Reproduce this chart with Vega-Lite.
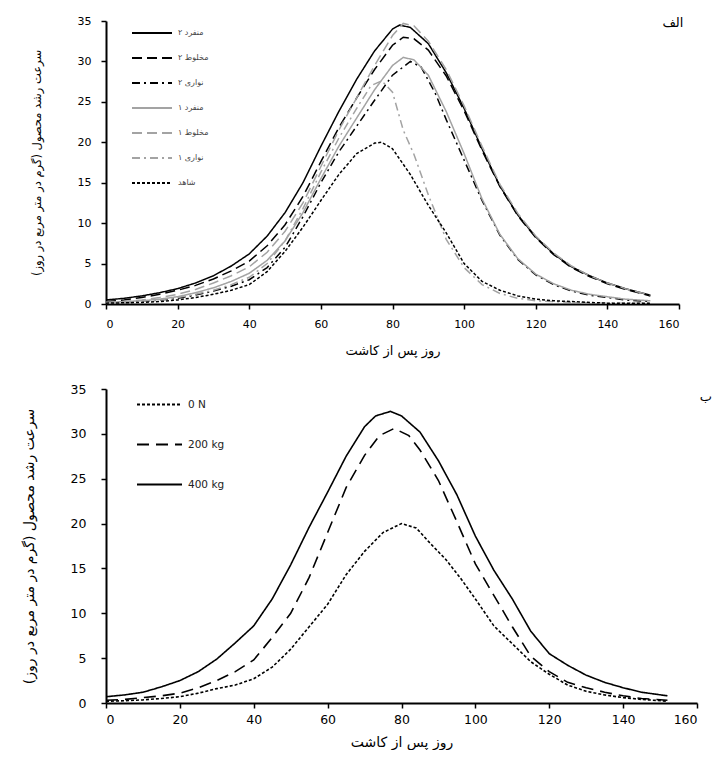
{
  "$schema": "https://vega.github.io/schema/vega-lite/v6.json",
  "background": "white",
  "padding": {"top": 12, "left": 22, "right": 0, "bottom": 0},
  "config": {
    "view": {"stroke": null},
    "font": "DejaVu Sans",
    "axis": {
      "grid": false,
      "domainColor": "#000",
      "domainWidth": 2,
      "tickColor": "#000",
      "tickWidth": 1.5,
      "tickSize": 5,
      "labelColor": "#000",
      "titleColor": "#000",
      "titleFontWeight": "normal",
      "labelFont": "DejaVu Sans",
      "titleFont": "DejaVu Sans"
    },
    "legend": {"symbolType": "stroke", "padding": 0, "title": null}
  },
  "datasets": {
    "top": [
      {"series": "منفرد ۲", "day": 0, "cgr": 0.5}, {"series": "منفرد ۲", "day": 5, "cgr": 0.7}, {"series": "منفرد ۲", "day": 10, "cgr": 1.0}, {"series": "منفرد ۲", "day": 15, "cgr": 1.4}, {"series": "منفرد ۲", "day": 20, "cgr": 1.9}, {"series": "منفرد ۲", "day": 25, "cgr": 2.6}, {"series": "منفرد ۲", "day": 30, "cgr": 3.5}, {"series": "منفرد ۲", "day": 35, "cgr": 4.7}, {"series": "منفرد ۲", "day": 40, "cgr": 6.2}, {"series": "منفرد ۲", "day": 45, "cgr": 8.4}, {"series": "منفرد ۲", "day": 50, "cgr": 11.3}, {"series": "منفرد ۲", "day": 55, "cgr": 15.0}, {"series": "منفرد ۲", "day": 60, "cgr": 19.5}, {"series": "منفرد ۲", "day": 65, "cgr": 23.8}, {"series": "منفرد ۲", "day": 70, "cgr": 27.8}, {"series": "منفرد ۲", "day": 75, "cgr": 31.3}, {"series": "منفرد ۲", "day": 80, "cgr": 34.0}, {"series": "منفرد ۲", "day": 82, "cgr": 34.5}, {"series": "منفرد ۲", "day": 85, "cgr": 34.2}, {"series": "منفرد ۲", "day": 90, "cgr": 32.2}, {"series": "منفرد ۲", "day": 95, "cgr": 28.6}, {"series": "منفرد ۲", "day": 100, "cgr": 24.2}, {"series": "منفرد ۲", "day": 105, "cgr": 19.2}, {"series": "منفرد ۲", "day": 110, "cgr": 14.6}, {"series": "منفرد ۲", "day": 115, "cgr": 11.0}, {"series": "منفرد ۲", "day": 120, "cgr": 8.3}, {"series": "منفرد ۲", "day": 125, "cgr": 6.2}, {"series": "منفرد ۲", "day": 130, "cgr": 4.6}, {"series": "منفرد ۲", "day": 135, "cgr": 3.5}, {"series": "منفرد ۲", "day": 140, "cgr": 2.6}, {"series": "منفرد ۲", "day": 145, "cgr": 1.9}, {"series": "منفرد ۲", "day": 152, "cgr": 1.1},

      {"series": "مخلوط ۲", "day": 0, "cgr": 0.3}, {"series": "مخلوط ۲", "day": 5, "cgr": 0.5}, {"series": "مخلوط ۲", "day": 10, "cgr": 0.8}, {"series": "مخلوط ۲", "day": 15, "cgr": 1.2}, {"series": "مخلوط ۲", "day": 20, "cgr": 1.7}, {"series": "مخلوط ۲", "day": 25, "cgr": 2.3}, {"series": "مخلوط ۲", "day": 30, "cgr": 3.1}, {"series": "مخلوط ۲", "day": 35, "cgr": 4.1}, {"series": "مخلوط ۲", "day": 40, "cgr": 5.3}, {"series": "مخلوط ۲", "day": 45, "cgr": 7.2}, {"series": "مخلوط ۲", "day": 50, "cgr": 9.8}, {"series": "مخلوط ۲", "day": 55, "cgr": 13.3}, {"series": "مخلوط ۲", "day": 60, "cgr": 17.6}, {"series": "مخلوط ۲", "day": 65, "cgr": 21.8}, {"series": "مخلوط ۲", "day": 70, "cgr": 25.5}, {"series": "مخلوط ۲", "day": 75, "cgr": 29.0}, {"series": "مخلوط ۲", "day": 80, "cgr": 32.0}, {"series": "مخلوط ۲", "day": 83, "cgr": 33.0}, {"series": "مخلوط ۲", "day": 86, "cgr": 32.8}, {"series": "مخلوط ۲", "day": 90, "cgr": 31.4}, {"series": "مخلوط ۲", "day": 95, "cgr": 28.2}, {"series": "مخلوط ۲", "day": 100, "cgr": 23.9}, {"series": "مخلوط ۲", "day": 105, "cgr": 19.0}, {"series": "مخلوط ۲", "day": 110, "cgr": 14.5}, {"series": "مخلوط ۲", "day": 115, "cgr": 10.9}, {"series": "مخلوط ۲", "day": 120, "cgr": 8.2}, {"series": "مخلوط ۲", "day": 125, "cgr": 6.1}, {"series": "مخلوط ۲", "day": 130, "cgr": 4.5}, {"series": "مخلوط ۲", "day": 135, "cgr": 3.4}, {"series": "مخلوط ۲", "day": 140, "cgr": 2.5}, {"series": "مخلوط ۲", "day": 145, "cgr": 1.8}, {"series": "مخلوط ۲", "day": 152, "cgr": 1.0},

      {"series": "نواری ۲", "day": 0, "cgr": 0.1}, {"series": "نواری ۲", "day": 5, "cgr": 0.2}, {"series": "نواری ۲", "day": 10, "cgr": 0.3}, {"series": "نواری ۲", "day": 15, "cgr": 0.5}, {"series": "نواری ۲", "day": 20, "cgr": 0.7}, {"series": "نواری ۲", "day": 25, "cgr": 1.1}, {"series": "نواری ۲", "day": 30, "cgr": 1.6}, {"series": "نواری ۲", "day": 35, "cgr": 2.2}, {"series": "نواری ۲", "day": 40, "cgr": 3.0}, {"series": "نواری ۲", "day": 45, "cgr": 4.5}, {"series": "نواری ۲", "day": 50, "cgr": 7.0}, {"series": "نواری ۲", "day": 55, "cgr": 10.8}, {"series": "نواری ۲", "day": 60, "cgr": 15.0}, {"series": "نواری ۲", "day": 65, "cgr": 18.8}, {"series": "نواری ۲", "day": 70, "cgr": 22.0}, {"series": "نواری ۲", "day": 75, "cgr": 25.2}, {"series": "نواری ۲", "day": 80, "cgr": 28.3}, {"series": "نواری ۲", "day": 85, "cgr": 30.0}, {"series": "نواری ۲", "day": 88, "cgr": 29.3}, {"series": "نواری ۲", "day": 92, "cgr": 26.0}, {"series": "نواری ۲", "day": 95, "cgr": 22.8}, {"series": "نواری ۲", "day": 100, "cgr": 17.8}, {"series": "نواری ۲", "day": 105, "cgr": 12.8}, {"series": "نواری ۲", "day": 110, "cgr": 8.5}, {"series": "نواری ۲", "day": 115, "cgr": 5.5}, {"series": "نواری ۲", "day": 120, "cgr": 3.6}, {"series": "نواری ۲", "day": 125, "cgr": 2.4}, {"series": "نواری ۲", "day": 130, "cgr": 1.6}, {"series": "نواری ۲", "day": 135, "cgr": 1.1}, {"series": "نواری ۲", "day": 140, "cgr": 0.8}, {"series": "نواری ۲", "day": 145, "cgr": 0.5}, {"series": "نواری ۲", "day": 152, "cgr": 0.3},

      {"series": "منفرد ۱", "day": 0, "cgr": 0.2}, {"series": "منفرد ۱", "day": 5, "cgr": 0.3}, {"series": "منفرد ۱", "day": 10, "cgr": 0.4}, {"series": "منفرد ۱", "day": 15, "cgr": 0.6}, {"series": "منفرد ۱", "day": 20, "cgr": 0.9}, {"series": "منفرد ۱", "day": 25, "cgr": 1.4}, {"series": "منفرد ۱", "day": 30, "cgr": 2.0}, {"series": "منفرد ۱", "day": 35, "cgr": 2.8}, {"series": "منفرد ۱", "day": 40, "cgr": 3.8}, {"series": "منفرد ۱", "day": 45, "cgr": 5.4}, {"series": "منفرد ۱", "day": 50, "cgr": 7.8}, {"series": "منفرد ۱", "day": 55, "cgr": 11.3}, {"series": "منفرد ۱", "day": 60, "cgr": 15.5}, {"series": "منفرد ۱", "day": 65, "cgr": 19.5}, {"series": "منفرد ۱", "day": 70, "cgr": 23.0}, {"series": "منفرد ۱", "day": 75, "cgr": 26.5}, {"series": "منفرد ۱", "day": 80, "cgr": 29.5}, {"series": "منفرد ۱", "day": 83, "cgr": 30.5}, {"series": "منفرد ۱", "day": 86, "cgr": 30.2}, {"series": "منفرد ۱", "day": 90, "cgr": 28.3}, {"series": "منفرد ۱", "day": 95, "cgr": 23.8}, {"series": "منفرد ۱", "day": 100, "cgr": 18.6}, {"series": "منفرد ۱", "day": 105, "cgr": 13.0}, {"series": "منفرد ۱", "day": 110, "cgr": 8.6}, {"series": "منفرد ۱", "day": 115, "cgr": 5.6}, {"series": "منفرد ۱", "day": 120, "cgr": 3.7}, {"series": "منفرد ۱", "day": 125, "cgr": 2.5}, {"series": "منفرد ۱", "day": 130, "cgr": 1.7}, {"series": "منفرد ۱", "day": 135, "cgr": 1.2}, {"series": "منفرد ۱", "day": 140, "cgr": 0.9}, {"series": "منفرد ۱", "day": 145, "cgr": 0.6}, {"series": "منفرد ۱", "day": 152, "cgr": 0.4},

      {"series": "مخلوط ۱", "day": 0, "cgr": 0.2}, {"series": "مخلوط ۱", "day": 5, "cgr": 0.3}, {"series": "مخلوط ۱", "day": 10, "cgr": 0.5}, {"series": "مخلوط ۱", "day": 15, "cgr": 0.8}, {"series": "مخلوط ۱", "day": 20, "cgr": 1.2}, {"series": "مخلوط ۱", "day": 25, "cgr": 1.8}, {"series": "مخلوط ۱", "day": 30, "cgr": 2.6}, {"series": "مخلوط ۱", "day": 35, "cgr": 3.5}, {"series": "مخلوط ۱", "day": 40, "cgr": 4.6}, {"series": "مخلوط ۱", "day": 45, "cgr": 6.4}, {"series": "مخلوط ۱", "day": 50, "cgr": 9.0}, {"series": "مخلوط ۱", "day": 55, "cgr": 12.5}, {"series": "مخلوط ۱", "day": 60, "cgr": 17.0}, {"series": "مخلوط ۱", "day": 65, "cgr": 21.5}, {"series": "مخلوط ۱", "day": 70, "cgr": 25.5}, {"series": "مخلوط ۱", "day": 75, "cgr": 29.5}, {"series": "مخلوط ۱", "day": 80, "cgr": 33.2}, {"series": "مخلوط ۱", "day": 83, "cgr": 34.7}, {"series": "مخلوط ۱", "day": 86, "cgr": 34.4}, {"series": "مخلوط ۱", "day": 90, "cgr": 32.5}, {"series": "مخلوط ۱", "day": 95, "cgr": 29.0}, {"series": "مخلوط ۱", "day": 100, "cgr": 24.5}, {"series": "مخلوط ۱", "day": 105, "cgr": 19.5}, {"series": "مخلوط ۱", "day": 110, "cgr": 14.8}, {"series": "مخلوط ۱", "day": 115, "cgr": 11.2}, {"series": "مخلوط ۱", "day": 120, "cgr": 8.4}, {"series": "مخلوط ۱", "day": 125, "cgr": 6.3}, {"series": "مخلوط ۱", "day": 130, "cgr": 4.7}, {"series": "مخلوط ۱", "day": 135, "cgr": 3.5}, {"series": "مخلوط ۱", "day": 140, "cgr": 2.6}, {"series": "مخلوط ۱", "day": 145, "cgr": 1.9}, {"series": "مخلوط ۱", "day": 152, "cgr": 1.1},

      {"series": "نواری ۱", "day": 0, "cgr": 0.1}, {"series": "نواری ۱", "day": 5, "cgr": 0.2}, {"series": "نواری ۱", "day": 10, "cgr": 0.3}, {"series": "نواری ۱", "day": 15, "cgr": 0.5}, {"series": "نواری ۱", "day": 20, "cgr": 0.8}, {"series": "نواری ۱", "day": 25, "cgr": 1.2}, {"series": "نواری ۱", "day": 30, "cgr": 1.7}, {"series": "نواری ۱", "day": 35, "cgr": 2.4}, {"series": "نواری ۱", "day": 40, "cgr": 3.3}, {"series": "نواری ۱", "day": 45, "cgr": 5.0}, {"series": "نواری ۱", "day": 50, "cgr": 7.8}, {"series": "نواری ۱", "day": 55, "cgr": 11.8}, {"series": "نواری ۱", "day": 60, "cgr": 16.3}, {"series": "نواری ۱", "day": 65, "cgr": 20.5}, {"series": "نواری ۱", "day": 70, "cgr": 24.2}, {"series": "نواری ۱", "day": 74, "cgr": 27.0}, {"series": "نواری ۱", "day": 77, "cgr": 27.6}, {"series": "نواری ۱", "day": 80, "cgr": 26.2}, {"series": "نواری ۱", "day": 83, "cgr": 21.5}, {"series": "نواری ۱", "day": 86, "cgr": 18.5}, {"series": "نواری ۱", "day": 90, "cgr": 13.5}, {"series": "نواری ۱", "day": 95, "cgr": 8.0}, {"series": "نواری ۱", "day": 100, "cgr": 4.5}, {"series": "نواری ۱", "day": 105, "cgr": 2.4}, {"series": "نواری ۱", "day": 110, "cgr": 1.3}, {"series": "نواری ۱", "day": 115, "cgr": 0.7}, {"series": "نواری ۱", "day": 120, "cgr": 0.4}, {"series": "نواری ۱", "day": 130, "cgr": 0.2}, {"series": "نواری ۱", "day": 140, "cgr": 0.1}, {"series": "نواری ۱", "day": 152, "cgr": 0.1},

      {"series": "شاهد", "day": 0, "cgr": 0.1}, {"series": "شاهد", "day": 5, "cgr": 0.15}, {"series": "شاهد", "day": 10, "cgr": 0.2}, {"series": "شاهد", "day": 15, "cgr": 0.3}, {"series": "شاهد", "day": 20, "cgr": 0.5}, {"series": "شاهد", "day": 25, "cgr": 0.8}, {"series": "شاهد", "day": 30, "cgr": 1.2}, {"series": "شاهد", "day": 35, "cgr": 1.7}, {"series": "شاهد", "day": 40, "cgr": 2.4}, {"series": "شاهد", "day": 45, "cgr": 4.0}, {"series": "شاهد", "day": 50, "cgr": 6.5}, {"series": "شاهد", "day": 55, "cgr": 9.5}, {"series": "شاهد", "day": 60, "cgr": 12.8}, {"series": "شاهد", "day": 65, "cgr": 16.0}, {"series": "شاهد", "day": 70, "cgr": 18.6}, {"series": "شاهد", "day": 75, "cgr": 19.9}, {"series": "شاهد", "day": 77, "cgr": 20.0}, {"series": "شاهد", "day": 80, "cgr": 19.2}, {"series": "شاهد", "day": 85, "cgr": 16.0}, {"series": "شاهد", "day": 90, "cgr": 12.2}, {"series": "شاهد", "day": 95, "cgr": 8.8}, {"series": "شاهد", "day": 100, "cgr": 5.0}, {"series": "شاهد", "day": 105, "cgr": 2.8}, {"series": "شاهد", "day": 110, "cgr": 1.7}, {"series": "شاهد", "day": 115, "cgr": 1.0}, {"series": "شاهد", "day": 120, "cgr": 0.6}, {"series": "شاهد", "day": 125, "cgr": 0.4}, {"series": "شاهد", "day": 130, "cgr": 0.3}, {"series": "شاهد", "day": 140, "cgr": 0.1}, {"series": "شاهد", "day": 152, "cgr": 0.1}
    ],
    "bottom": [
      {"level": "0 N", "day": 0, "cgr": 0.2}, {"level": "0 N", "day": 5, "cgr": 0.25}, {"level": "0 N", "day": 10, "cgr": 0.35}, {"level": "0 N", "day": 15, "cgr": 0.5}, {"level": "0 N", "day": 20, "cgr": 0.7}, {"level": "0 N", "day": 25, "cgr": 1.1}, {"level": "0 N", "day": 30, "cgr": 1.6}, {"level": "0 N", "day": 35, "cgr": 2.0}, {"level": "0 N", "day": 40, "cgr": 2.7}, {"level": "0 N", "day": 45, "cgr": 4.0}, {"level": "0 N", "day": 50, "cgr": 6.0}, {"level": "0 N", "day": 55, "cgr": 8.5}, {"level": "0 N", "day": 60, "cgr": 11.0}, {"level": "0 N", "day": 65, "cgr": 14.3}, {"level": "0 N", "day": 70, "cgr": 16.9}, {"level": "0 N", "day": 75, "cgr": 19.0}, {"level": "0 N", "day": 80, "cgr": 20.0}, {"level": "0 N", "day": 84, "cgr": 19.5}, {"level": "0 N", "day": 88, "cgr": 17.7}, {"level": "0 N", "day": 92, "cgr": 16.0}, {"level": "0 N", "day": 96, "cgr": 13.9}, {"level": "0 N", "day": 100, "cgr": 11.6}, {"level": "0 N", "day": 105, "cgr": 8.6}, {"level": "0 N", "day": 110, "cgr": 6.6}, {"level": "0 N", "day": 115, "cgr": 4.6}, {"level": "0 N", "day": 120, "cgr": 3.2}, {"level": "0 N", "day": 125, "cgr": 2.0}, {"level": "0 N", "day": 130, "cgr": 1.3}, {"level": "0 N", "day": 135, "cgr": 0.9}, {"level": "0 N", "day": 140, "cgr": 0.6}, {"level": "0 N", "day": 145, "cgr": 0.4}, {"level": "0 N", "day": 152, "cgr": 0.2},

      {"level": "200 kg", "day": 0, "cgr": 0.3}, {"level": "200 kg", "day": 5, "cgr": 0.4}, {"level": "200 kg", "day": 10, "cgr": 0.6}, {"level": "200 kg", "day": 15, "cgr": 0.8}, {"level": "200 kg", "day": 20, "cgr": 1.1}, {"level": "200 kg", "day": 25, "cgr": 1.7}, {"level": "200 kg", "day": 30, "cgr": 2.5}, {"level": "200 kg", "day": 35, "cgr": 3.5}, {"level": "200 kg", "day": 40, "cgr": 4.8}, {"level": "200 kg", "day": 45, "cgr": 7.3}, {"level": "200 kg", "day": 50, "cgr": 10.0}, {"level": "200 kg", "day": 55, "cgr": 14.0}, {"level": "200 kg", "day": 60, "cgr": 19.0}, {"level": "200 kg", "day": 65, "cgr": 24.0}, {"level": "200 kg", "day": 70, "cgr": 27.6}, {"level": "200 kg", "day": 74, "cgr": 29.8}, {"level": "200 kg", "day": 78, "cgr": 30.6}, {"level": "200 kg", "day": 82, "cgr": 29.8}, {"level": "200 kg", "day": 85, "cgr": 28.2}, {"level": "200 kg", "day": 90, "cgr": 24.8}, {"level": "200 kg", "day": 95, "cgr": 20.2}, {"level": "200 kg", "day": 100, "cgr": 15.5}, {"level": "200 kg", "day": 105, "cgr": 12.0}, {"level": "200 kg", "day": 110, "cgr": 8.5}, {"level": "200 kg", "day": 115, "cgr": 5.2}, {"level": "200 kg", "day": 120, "cgr": 3.5}, {"level": "200 kg", "day": 125, "cgr": 2.3}, {"level": "200 kg", "day": 130, "cgr": 1.7}, {"level": "200 kg", "day": 135, "cgr": 1.2}, {"level": "200 kg", "day": 140, "cgr": 0.8}, {"level": "200 kg", "day": 145, "cgr": 0.5}, {"level": "200 kg", "day": 152, "cgr": 0.3},

      {"level": "400 kg", "day": 0, "cgr": 0.7}, {"level": "400 kg", "day": 5, "cgr": 0.9}, {"level": "400 kg", "day": 10, "cgr": 1.2}, {"level": "400 kg", "day": 15, "cgr": 1.8}, {"level": "400 kg", "day": 20, "cgr": 2.5}, {"level": "400 kg", "day": 25, "cgr": 3.5}, {"level": "400 kg", "day": 30, "cgr": 4.9}, {"level": "400 kg", "day": 35, "cgr": 6.7}, {"level": "400 kg", "day": 40, "cgr": 8.6}, {"level": "400 kg", "day": 45, "cgr": 11.6}, {"level": "400 kg", "day": 50, "cgr": 15.4}, {"level": "400 kg", "day": 55, "cgr": 19.6}, {"level": "400 kg", "day": 60, "cgr": 23.5}, {"level": "400 kg", "day": 65, "cgr": 27.5}, {"level": "400 kg", "day": 70, "cgr": 30.8}, {"level": "400 kg", "day": 73, "cgr": 32.0}, {"level": "400 kg", "day": 77, "cgr": 32.5}, {"level": "400 kg", "day": 80, "cgr": 32.0}, {"level": "400 kg", "day": 85, "cgr": 30.2}, {"level": "400 kg", "day": 90, "cgr": 27.0}, {"level": "400 kg", "day": 95, "cgr": 23.2}, {"level": "400 kg", "day": 100, "cgr": 18.6}, {"level": "400 kg", "day": 105, "cgr": 14.8}, {"level": "400 kg", "day": 110, "cgr": 11.6}, {"level": "400 kg", "day": 115, "cgr": 8.0}, {"level": "400 kg", "day": 120, "cgr": 5.5}, {"level": "400 kg", "day": 125, "cgr": 4.2}, {"level": "400 kg", "day": 130, "cgr": 3.1}, {"level": "400 kg", "day": 135, "cgr": 2.3}, {"level": "400 kg", "day": 140, "cgr": 1.7}, {"level": "400 kg", "day": 145, "cgr": 1.2}, {"level": "400 kg", "day": 152, "cgr": 0.8}
    ]
  },
  "spacing": 24,
  "resolve": {
    "scale": {"x": "independent", "y": "independent", "color": "independent", "strokeDash": "independent"},
    "legend": {"color": "independent", "strokeDash": "independent"}
  },
  "vconcat": [
    {
      "width": 573,
      "height": 283,
      "layer": [
        {
          "data": {"name": "top"},
          "mark": {"type": "line", "strokeWidth": 1.5},
          "encoding": {
            "x": {
              "field": "day", "type": "quantitative",
              "scale": {"domain": [0, 160], "nice": false},
              "axis": {"values": [0, 20, 40, 60, 80, 100, 120, 140, 160], "labelFontSize": 11, "labelPadding": 9, "title": "روز پس از کاشت", "titleFontSize": 13, "titlePadding": 15}
            },
            "y": {
              "field": "cgr", "type": "quantitative",
              "scale": {"domain": [0, 35], "nice": false},
              "axis": {"values": [0, 5, 10, 15, 20, 25, 30, 35], "labelFontSize": 11, "labelPadding": 10, "title": "سرعت رشد محصول (گرم در متر مربع در روز)", "titleFontSize": 11.5, "titlePadding": 35}
            },
            "color": {
              "field": "series", "type": "nominal",
              "scale": {
                "domain": ["منفرد ۲", "مخلوط ۲", "نواری ۲", "منفرد ۱", "مخلوط ۱", "نواری ۱", "شاهد"],
                "range": ["#000000", "#000000", "#000000", "#a3a3a3", "#a3a3a3", "#a3a3a3", "#000000"]
              },
              "legend": {"orient": "none", "legendX": 25, "legendY": -9, "symbolSize": 1600, "symbolStrokeWidth": 1.8, "labelFontSize": 8, "labelColor": "#444", "labelOffset": 5, "rowPadding": -1.2}
            },
            "strokeDash": {
              "field": "series", "type": "nominal",
              "scale": {
                "domain": ["منفرد ۲", "مخلوط ۲", "نواری ۲", "منفرد ۱", "مخلوط ۱", "نواری ۱", "شاهد"],
                "range": [[1, 0], [10, 5], [8, 4, 2, 4], [1, 0], [10, 5], [8, 4, 2, 4], [3, 2]]
              },
              "legend": {"orient": "none", "legendX": 25, "legendY": -9, "symbolSize": 1600, "symbolStrokeWidth": 1.8, "labelFontSize": 8, "labelColor": "#444", "labelOffset": 5, "rowPadding": -1.2}
            }
          }
        },
        {
          "data": {"values": [{}]},
          "mark": {"type": "text", "text": "الف", "font": "DejaVu Sans", "fontSize": 13, "align": "center", "baseline": "middle"},
          "encoding": {"x": {"datum": 158.3}, "y": {"datum": 34.7}}
        }
      ]
    },
    {
      "width": 591,
      "height": 314,
      "layer": [
        {
          "data": {"name": "bottom"},
          "mark": {"type": "line", "strokeWidth": 1.6, "color": "#000"},
          "encoding": {
            "x": {
              "field": "day", "type": "quantitative",
              "scale": {"domain": [0, 160], "nice": false},
              "axis": {"values": [0, 20, 40, 60, 80, 100, 120, 140, 160], "labelFontSize": 12.5, "labelPadding": 5, "title": "روز پس از کاشت", "titleFontSize": 14, "titlePadding": 10}
            },
            "y": {
              "field": "cgr", "type": "quantitative",
              "scale": {"domain": [0, 35], "nice": false},
              "axis": {"values": [0, 5, 10, 15, 20, 25, 30, 35], "labelFontSize": 12.5, "labelPadding": 15, "title": "سرعت رشد محصول (گرم در متر مربع در روز)", "titleFontSize": 14, "titlePadding": 34}
            },
            "strokeDash": {
              "field": "level", "type": "nominal",
              "scale": {"domain": ["0 N", "200 kg", "400 kg"], "range": [[3, 2], [12, 7], [1, 0]]},
              "legend": {"orient": "none", "legendX": 30, "legendY": -8, "symbolSize": 2025, "symbolStrokeWidth": 1.8, "symbolStrokeColor": "#000", "labelFontSize": 10.5, "labelColor": "#222", "labelOffset": 5, "rowPadding": 11}
            }
          }
        },
        {
          "data": {"values": [{}]},
          "mark": {"type": "text", "text": "ب", "font": "DejaVu Sans", "fontSize": 13, "align": "center", "baseline": "middle", "clip": false},
          "encoding": {"x": {"datum": 162.4}, "y": {"datum": 34.1}}
        }
      ]
    }
  ]
}
